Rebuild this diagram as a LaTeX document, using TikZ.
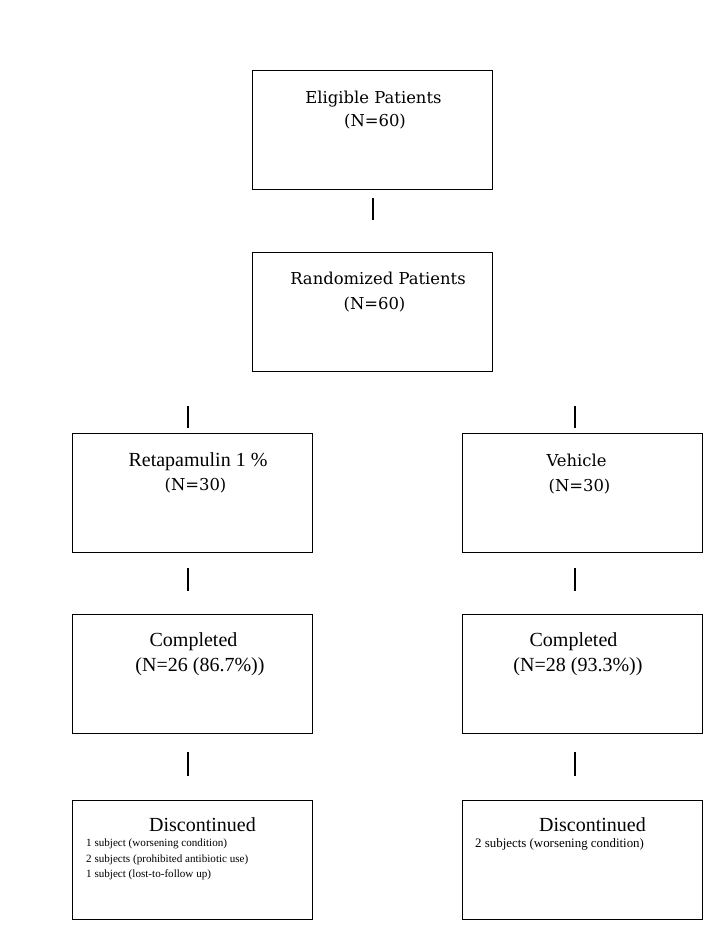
\documentclass[tikz,border=0pt]{standalone}
\usepackage{fontspec}
\newfontfamily\tms{Liberation Serif}
\newfontfamily\cam{DejaVu Serif}
\begin{document}
\begin{tikzpicture}[x=1pt,y=-1pt,
  boxnode/.style={draw=black,line width=0.9pt,minimum width=240pt,minimum height=119pt,inner sep=0pt,anchor=north west},
  conn/.style={draw=black,line width=1.3pt},
  camtxt/.style={anchor=base,inner sep=0pt,font=\cam\fontsize{16.4}{20}\selectfont},
  tmstxt/.style={anchor=base,inner sep=0pt,font=\tms\fontsize{20}{24}\selectfont},
  smalltxt/.style={anchor=base west,inner sep=0pt,font=\tms\fontsize{11.1}{13}\selectfont},
  smalltxtb/.style={anchor=base west,inner sep=0pt,font=\tms\fontsize{12.9}{15}\selectfont}]
\useasboundingbox (0,0) rectangle (709,948);
% boxes
\node[boxnode] (elig) at (252,70) {};
\node[boxnode] (rand) at (252,252) {};
\node[boxnode] (reta) at (72,433) {};
\node[boxnode] (vehi) at (462,433) {};
\node[boxnode] (compL) at (72,614) {};
\node[boxnode] (compR) at (462,614) {};
\node[boxnode] (discL) at (72,800) {};
\node[boxnode] (discR) at (462,800) {};
% texts
\node[camtxt] (t1a) at (373.5,103) {Eligible Patients};
\node[camtxt] (t1b) at (375,126) {(N=60)};
\node[camtxt] (t2a) at (378,284) {Randomized Patients};
\node[camtxt] (t2b) at (374.5,309) {(N=60)};
\node[tmstxt] (t3a) at (198,466.5) {Retapamulin 1 \%};
\node[camtxt] (t3b) at (195.5,490) {(N=30)};
\node[camtxt] (t4a) at (576.5,466) {Vehicle};
\node[camtxt] (t4b) at (579.5,491) {(N=30)};
\node[tmstxt] (t5a) at (193.5,646.5) {Completed};
\node[tmstxt] (t5b) at (200,671) {(N=26 (86.7\%))};
\node[tmstxt] (t6a) at (573.5,646.5) {Completed};
\node[tmstxt] (t6b) at (578,671.5) {(N=28 (93.3\%))};
\node[tmstxt] (t7a) at (202.5,831.5) {Discontinued};
\node[smalltxt] (t7b) at (86,846) {1 subject (worsening condition)};
\node[smalltxt] (t7c) at (86,862) {2 subjects (prohibited antibiotic use)};
\node[smalltxt] (t7d) at (86,877) {1 subject (lost-to-follow up)};
\node[tmstxt] (t8a) at (592.5,831.5) {Discontinued};
\node[smalltxtb] (t8b) at (475,847) {2 subjects (worsening condition)};
% connector segments
\coordinate (c1a) at (373,198); \coordinate (c1b) at (373,220);
\coordinate (c2a) at (188,406); \coordinate (c2b) at (188,428);
\coordinate (c3a) at (575,406); \coordinate (c3b) at (575,428);
\coordinate (c4a) at (188,568); \coordinate (c4b) at (188,591);
\coordinate (c5a) at (575,568); \coordinate (c5b) at (575,591);
\coordinate (c6a) at (188,752); \coordinate (c6b) at (188,776);
\coordinate (c7a) at (575,752); \coordinate (c7b) at (575,776);
\draw[conn] (c1a) -- (c1b);
\draw[conn] (c2a) -- (c2b);
\draw[conn] (c3a) -- (c3b);
\draw[conn] (c4a) -- (c4b);
\draw[conn] (c5a) -- (c5b);
\draw[conn] (c6a) -- (c6b);
\draw[conn] (c7a) -- (c7b);
\end{tikzpicture}
\end{document}
